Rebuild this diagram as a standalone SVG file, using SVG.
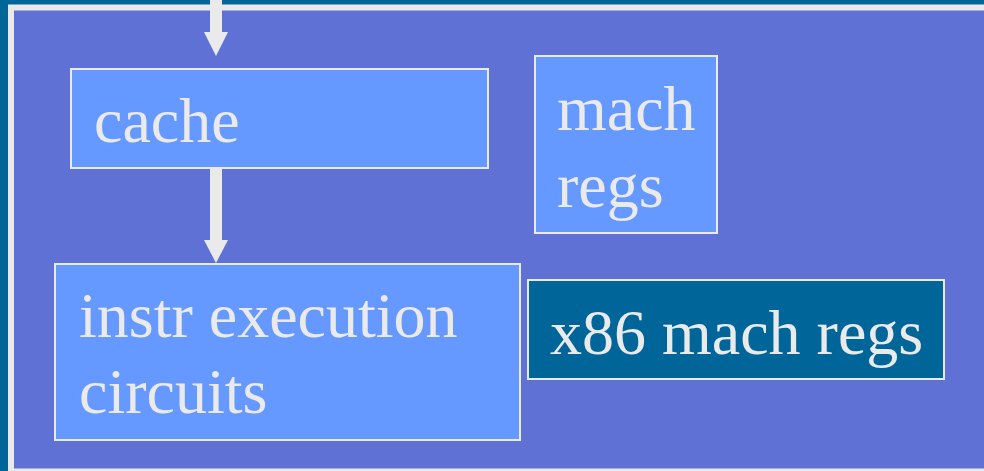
<svg xmlns="http://www.w3.org/2000/svg" width="984" height="471" viewBox="0 0 984 471">
<style>
.node{fill:#6699FF;stroke:#EAEAEA;stroke-width:2}
.dark{fill:#006699;stroke:#EAEAEA;stroke-width:2}
.t{font-family:"Liberation Serif","Times New Roman",serif;font-size:64px;fill:#EAEAEA}
.arr{fill:#EAEAEA}
</style>
<rect x="0" y="0" width="984" height="471" fill="#006699"/>
<rect x="11" y="7.5" width="1000" height="464" fill="#5F71D4" stroke="#EAEAEA" stroke-width="6"/>
<g id="connectors">
<rect class="arr" x="210" y="0" width="12" height="33"/>
<polygon class="arr" points="204,32 228,32 216,56"/>
<rect class="arr" x="210" y="168" width="12" height="73"/>
<polygon class="arr" points="204,240 228,240 216,263"/>
</g>
<g id="cache">
<rect class="node" x="71" y="69" width="417" height="99"/>
<text class="t" x="94" y="142">cache</text>
</g>
<g id="mach-regs">
<rect class="node" x="535" y="56" width="182" height="177"/>
<text class="t" x="557" y="130">mach</text>
<text class="t" x="557" y="207">regs</text>
</g>
<g id="instr">
<rect class="node" x="55" y="264" width="465" height="176"/>
<text class="t" x="79" y="337">instr execution</text>
<text class="t" x="79" y="413">circuits</text>
</g>
<g id="x86">
<rect class="dark" x="528" y="280" width="416" height="99"/>
<text class="t" x="550" y="354">x86 mach regs</text>
</g>
</svg>
